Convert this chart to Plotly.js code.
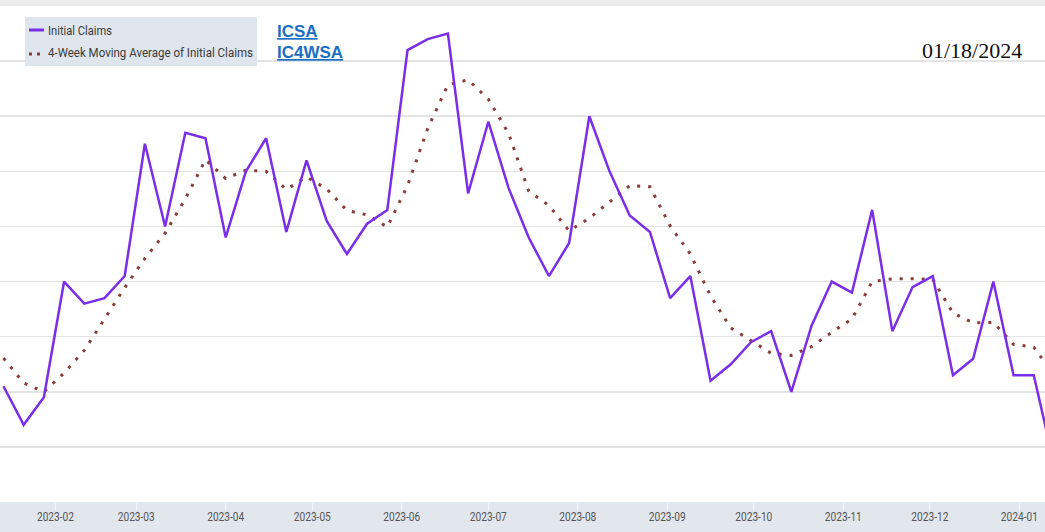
<!DOCTYPE html>
<html>
<head>
<meta charset="utf-8">
<script src="https://cdn.plot.ly/plotly-3.0.1.min.js"></script>
<style>
  html, body { margin: 0; padding: 0; background: #ffffff; }
  #chart { width: 1045px; height: 532px; }
</style>
</head>
<body>
<div id="chart"></div>
<script>
// Week-ending dates (Saturdays)
const weeks = [
  '2023-01-14','2023-01-21','2023-01-28','2023-02-04','2023-02-11','2023-02-18','2023-02-25',
  '2023-03-04','2023-03-11','2023-03-18','2023-03-25','2023-04-01','2023-04-08','2023-04-15',
  '2023-04-22','2023-04-29','2023-05-06','2023-05-13','2023-05-20','2023-05-27','2023-06-03',
  '2023-06-10','2023-06-17','2023-06-24','2023-07-01','2023-07-08','2023-07-15','2023-07-22',
  '2023-07-29','2023-08-05','2023-08-12','2023-08-19','2023-08-26','2023-09-02','2023-09-09',
  '2023-09-16','2023-09-23','2023-09-30','2023-10-07','2023-10-14','2023-10-21','2023-10-28',
  '2023-11-04','2023-11-11','2023-11-18','2023-11-25','2023-12-02','2023-12-09','2023-12-16',
  '2023-12-23','2023-12-30','2024-01-06','2024-01-13'
];
// Initial Claims (thousands)
const initialClaims = [
  201, 194, 199, 220, 216, 217, 221,
  245, 230, 247, 246, 228, 240, 246,
  229, 242, 231, 225, 230.5, 233, 262,
  264, 265, 236, 249, 237, 228, 221,
  227, 250, 240, 232, 229, 217, 221,
  202, 205, 209, 211, 200, 212, 220,
  218, 233, 211, 219, 221, 203, 206,
  220, 203, 203, 187
];
// 4-Week Moving Average of Initial Claims (thousands)
const movingAvg = [
  206.1, 201.6, 200.0, 203.4, 207.5, 213.1, 218.9,
  224.2, 228.8, 235.0, 242.1, 238.7, 240.2, 240.0,
  236.7, 239.0, 236.8, 232.9, 232.1, 229.9, 237.4,
  247.8, 255.7, 256.6, 253.1, 246.9, 236.4, 233.8,
  229.2, 231.5, 234.5, 237.4, 237.2, 230.1, 225.0,
  217.4, 211.6, 209.3, 207.0, 206.6, 208.2, 210.8,
  213.2, 220.0, 220.5, 220.5, 220.4, 214.3, 212.5,
  212.6, 208.6, 208.1, 203.0
];
const seriesNames = ['Initial Claims', '4-Week Moving Average of Initial Claims'];
const seriesIds = ['ICSA', 'IC4WSA'];
const releaseDate = '01/18/2024';

const W = 1045, H = 532, T = 6, B = 30;
const plotH = H - T - B;
const py = (ypx) => (H - B - ypx) / plotH;   // pixel y -> paper y
const px = (xpx) => xpx / W;                 // pixel x -> paper x

const sans = 'Liberation Sans, Arial, sans-serif';
const chartFont = 'Roboto, Liberation Sans, sans-serif';
const purple = '#7a2ee8';
const brown = '#8a3b3b';

const tickTextWidth = 37;
const legendTextWidths = [64, 205];

const traces = [
  {
    x: weeks, y: movingAvg, type: 'scatter', mode: 'lines', name: seriesNames[1],
    line: { color: brown, width: 3, dash: '3px,8px' }
  },
  {
    x: weeks, y: initialClaims, type: 'scatter', mode: 'lines', name: seriesNames[0],
    line: { color: purple, width: 2.5 }
  }
];

const layout = {
  width: W, height: H,
  margin: { l: 0, r: 0, t: T, b: B, pad: 0 },
  paper_bgcolor: '#e2e7ee',
  plot_bgcolor: '#ffffff',
  showlegend: false,
  xaxis: {
    type: 'date',
    range: ['2023-01-12 19:00', '2024-01-09 21:30'],
    tick0: '2023-02-01', dtick: 'M1', tickformat: '%Y-%m',
    ticks: 'outside', ticklen: 8, tickwidth: 1, tickcolor: '#f3f5f8',
    ticklabelstandoff: -4, ticklabeloverflow: 'allow',
    tickfont: { family: chartFont, size: 12, color: '#555555' },
    showgrid: false, zeroline: false, showline: false, fixedrange: true
  },
  yaxis: {
    range: [180, 270], tick0: 180, dtick: 10,
    showticklabels: false, ticks: '',
    showgrid: true, gridcolor: '#e4e4e4', gridwidth: 1.5,
    zeroline: false, showline: true, linecolor: '#e2e2e2', linewidth: 1.5,
    fixedrange: true
  },
  shapes: [
    { type: 'rect', xref: 'paper', yref: 'paper', x0: 0, x1: 1, y0: 1, y1: py(0),
      fillcolor: '#ebebeb', line: { width: 0 }, layer: 'above' },
    { type: 'rect', xref: 'paper', yref: 'paper', x0: px(25), x1: px(257), y0: py(66), y1: py(17),
      fillcolor: '#dfe5ec', line: { width: 0 }, layer: 'above' },
    { type: 'line', xref: 'paper', yref: 'paper', x0: px(29), x1: px(44), y0: py(30), y1: py(30),
      line: { color: purple, width: 3 }, layer: 'above' },
    { type: 'line', xref: 'paper', yref: 'paper', x0: px(29), x1: px(42), y0: py(54), y1: py(54),
      line: { color: brown, width: 3, dash: '3px,5px' }, layer: 'above' }
  ],
  annotations: [
    { xref: 'paper', yref: 'paper', x: px(47), y: py(31), xanchor: 'left', yanchor: 'middle', align: 'left',
      borderpad: 0,
      text: seriesNames[0], showarrow: false,
      font: { family: chartFont, size: 12, color: '#3a3a3a' } },
    { xref: 'paper', yref: 'paper', x: px(47), y: py(53), xanchor: 'left', yanchor: 'middle', align: 'left',
      borderpad: 0,
      text: seriesNames[1], showarrow: false,
      font: { family: chartFont, size: 12, color: '#3a3a3a' } },
    { xref: 'paper', yref: 'paper', x: px(275), y: py(32), xanchor: 'left', yanchor: 'middle',
      text: '<b><u>' + seriesIds[0] + '</u></b>', showarrow: false,
      font: { family: sans, size: 17, color: '#1a6fc4' } },
    { xref: 'paper', yref: 'paper', x: px(275), y: py(53), xanchor: 'left', yanchor: 'middle',
      text: '<b><u>' + seriesIds[1] + '</u></b>', showarrow: false,
      font: { family: sans, size: 17, color: '#1a6fc4' } },
    { xref: 'paper', yref: 'paper', x: px(1024), y: py(50), xanchor: 'right', yanchor: 'middle',
      text: releaseDate, showarrow: false,
      font: { family: 'Liberation Serif, Times New Roman, serif', size: 22, color: '#111111' } }
  ]
};

function condense() {
  document.querySelectorAll('#chart .xtick text').forEach(t => {
    t.setAttribute('textLength', tickTextWidth);
    t.setAttribute('lengthAdjust', 'spacingAndGlyphs');
  });
  legendTextWidths.forEach((w, i) => {
    const t = document.querySelector('#chart g.annotation[data-index="' + i + '"] text.annotation-text');
    if (t) {
      t.setAttribute('textLength', w);
      t.setAttribute('lengthAdjust', 'spacingAndGlyphs');
    }
  });
}

Plotly.newPlot('chart', traces, layout, { staticPlot: true, displayModeBar: false }).then(condense);
</script>
</body>
</html>
